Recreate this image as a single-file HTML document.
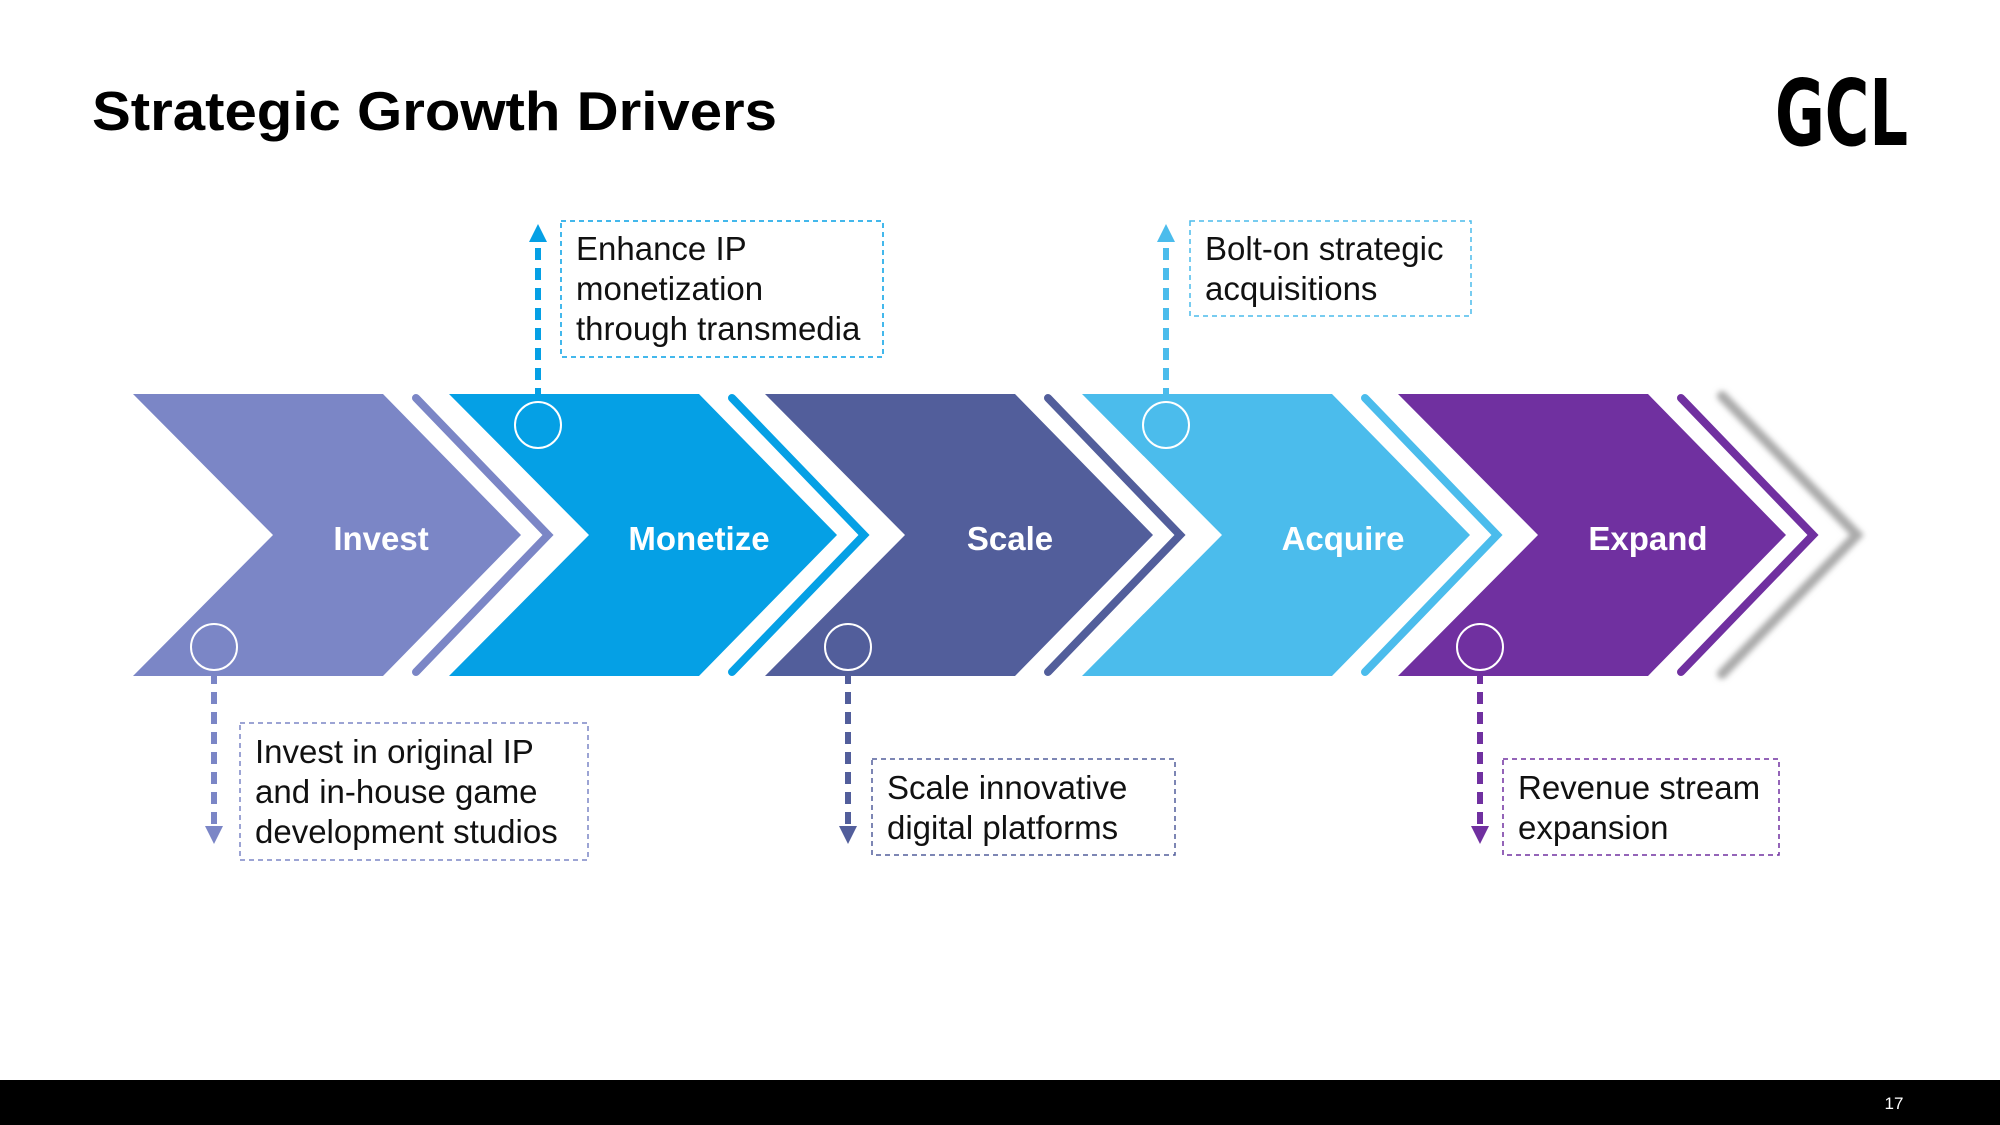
<!DOCTYPE html>
<html><head><meta charset="utf-8"><style>
html,body{margin:0;padding:0;background:#fff}
svg{display:block}
text{font-family:"Liberation Sans",Arial,sans-serif}
</style></head><body>
<svg width="2000" height="1125" viewBox="0 0 2000 1125" xmlns="http://www.w3.org/2000/svg">
<defs>
<filter id="blur" x="-20%" y="-10%" width="140%" height="120%"><feGaussianBlur stdDeviation="3"/></filter>
</defs>
<rect width="2000" height="1125" fill="#fff"/>
<text x="92" y="130" font-size="55" font-weight="bold" fill="#000" textLength="685" lengthAdjust="spacingAndGlyphs">Strategic Growth Drivers</text>
<text x="1775" y="145" font-size="92" font-weight="bold" fill="#000" textLength="133" lengthAdjust="spacingAndGlyphs" style="font-family:'DejaVu Sans Condensed','DejaVu Sans',sans-serif">GCL</text>

<polyline points="1722,396 1857,535 1722,674" fill="none" stroke="#aaa" stroke-width="10" stroke-linecap="round" filter="url(#blur)"/>

<polygon points="133,394 383,394 521,535 383,676 133,676 273,535" fill="#7b86c6"/>
<polyline points="416,398 548,535 416,672" fill="none" stroke="#7b86c6" stroke-width="8" stroke-linecap="round"/>
<polygon points="449,394 699,394 837,535 699,676 449,676 589,535" fill="#05a0e5"/>
<polyline points="732,398 864,535 732,672" fill="none" stroke="#05a0e5" stroke-width="8" stroke-linecap="round"/>
<polygon points="765,394 1015,394 1153,535 1015,676 765,676 905,535" fill="#525e9b"/>
<polyline points="1048,398 1180,535 1048,672" fill="none" stroke="#525e9b" stroke-width="8" stroke-linecap="round"/>
<polygon points="1082,394 1332,394 1470,535 1332,676 1082,676 1222,535" fill="#4bbcec"/>
<polyline points="1365,398 1497,535 1365,672" fill="none" stroke="#4bbcec" stroke-width="8" stroke-linecap="round"/>
<polygon points="1398,394 1648,394 1786,535 1648,676 1398,676 1538,535" fill="#7030a0"/>
<polyline points="1681,398 1813,535 1681,672" fill="none" stroke="#7030a0" stroke-width="8" stroke-linecap="round"/>

<g font-size="33" font-weight="bold" fill="#fff" text-anchor="middle">
<text x="381" y="550">Invest</text>
<text x="699" y="550">Monetize</text>
<text x="1010" y="550">Scale</text>
<text x="1343" y="550">Acquire</text>
<text x="1648" y="550">Expand</text>
</g>

<g fill="none" stroke="#fff" stroke-width="2">
<circle cx="214" cy="647" r="23"/>
<circle cx="538" cy="425" r="23"/>
<circle cx="848" cy="647" r="23"/>
<circle cx="1166" cy="425" r="23"/>
<circle cx="1480" cy="647" r="23"/>
</g>

<g stroke-width="6" stroke-dasharray="12 8" fill="none">
<line x1="538" y1="400" x2="538" y2="240" stroke="#05a0e5"/>
<line x1="1166" y1="400" x2="1166" y2="240" stroke="#4bbcec"/>
<line x1="214" y1="672" x2="214" y2="828" stroke="#7b86c6"/>
<line x1="848" y1="672" x2="848" y2="828" stroke="#525e9b"/>
<line x1="1480" y1="672" x2="1480" y2="828" stroke="#7030a0"/>
</g>
<polygon points="538,224 529,242 547,242" fill="#05a0e5"/>
<polygon points="1166,224 1157,242 1175,242" fill="#4bbcec"/>
<polygon points="214,844 205,826 223,826" fill="#7b86c6"/>
<polygon points="848,844 839,826 857,826" fill="#525e9b"/>
<polygon points="1480,844 1471,826 1489,826" fill="#7030a0"/>

<g fill="none" stroke-width="1.5" stroke-dasharray="5 4">
<rect x="561" y="221" width="322" height="136" stroke="#05a0e5"/>
<rect x="1190" y="221" width="281" height="95" stroke="#4bbcec"/>
<rect x="240" y="723" width="348" height="137" stroke="#7b86c6"/>
<rect x="872" y="759" width="303" height="96" stroke="#525e9b"/>
<rect x="1503" y="759" width="276" height="96" stroke="#7030a0"/>
</g>

<g font-size="33" fill="#111">
<text x="576" y="260">Enhance IP</text>
<text x="576" y="300">monetization</text>
<text x="576" y="340">through transmedia</text>
<text x="1205" y="260">Bolt-on strategic</text>
<text x="1205" y="300">acquisitions</text>
<text x="255" y="763">Invest in original IP</text>
<text x="255" y="803">and in-house game</text>
<text x="255" y="843">development studios</text>
<text x="887" y="799">Scale innovative</text>
<text x="887" y="839">digital platforms</text>
<text x="1518" y="799">Revenue stream</text>
<text x="1518" y="839">expansion</text>
</g>

<rect x="0" y="1080" width="2000" height="45" fill="#000"/>
<text x="1894" y="1109" font-size="17" fill="#fff" text-anchor="middle">17</text>
</svg>
</body></html>
